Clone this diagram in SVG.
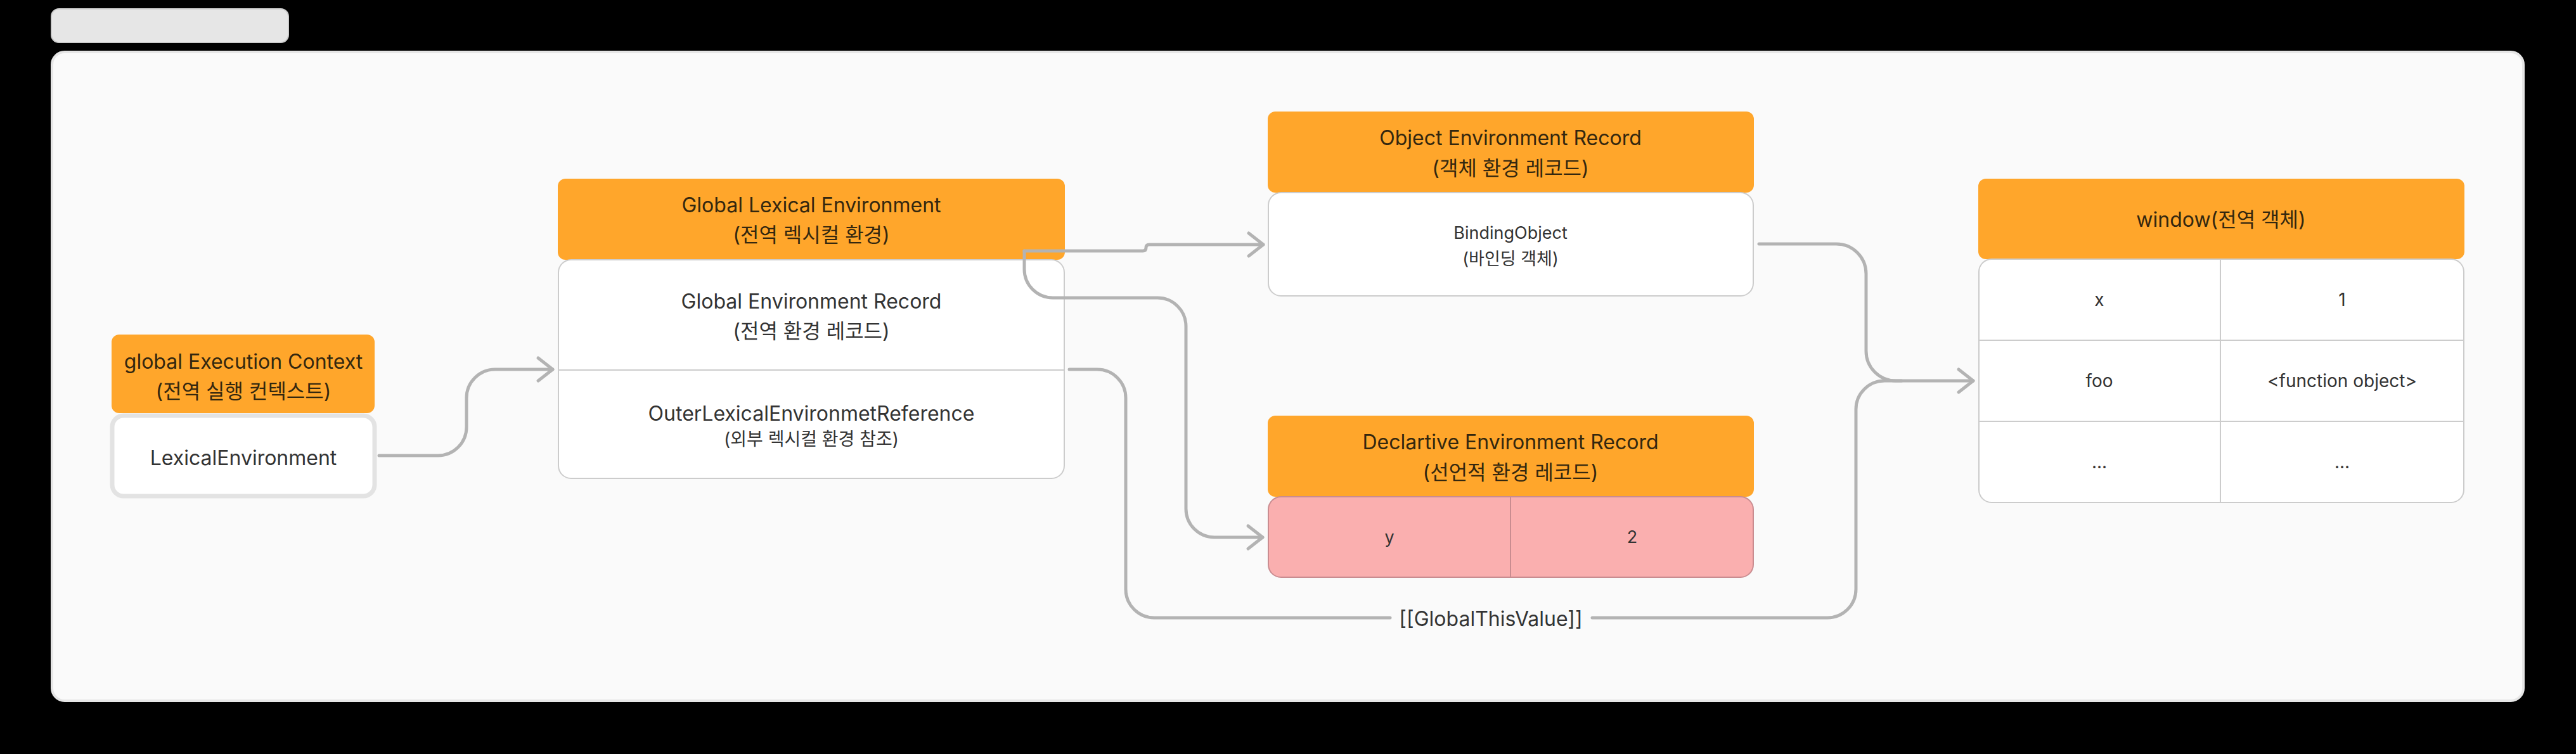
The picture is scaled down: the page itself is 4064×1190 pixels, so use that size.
<svg xmlns="http://www.w3.org/2000/svg" width="4064" height="1190" viewBox="0 0 4064 1190">
<defs>
<style>
text{font-family:"Inter","Noto Sans CJK KR",sans-serif;text-anchor:middle;dominant-baseline:central;fill:#333333;}
.hd{fill:#ffa62b;}
.ht{font-size:32px;fill:#33270f;}
.bt{font-size:32px;}
.st{font-size:28px;}
.sm{font-size:27px;}
.body{fill:#ffffff;stroke:#cccccc;stroke-width:2;}
.div{stroke:#cccccc;stroke-width:2;fill:none;}
.conn{fill:none;stroke:#b3b3b3;stroke-width:5;stroke-linecap:round;stroke-linejoin:round;}
</style>
<marker id="arr" markerUnits="userSpaceOnUse" markerWidth="40" markerHeight="50" viewBox="-30 -25 40 50" refX="0" refY="0" orient="auto" overflow="visible">
<path d="M-23,-18 L0,0 L-23,18" fill="none" stroke="#b3b3b3" stroke-width="5" stroke-linecap="round" stroke-linejoin="round"/>
</marker>
</defs>
<rect x="0" y="0" width="4064" height="1190" fill="#000000"/>
<rect x="81" y="14" width="374" height="53" rx="12" fill="#e6e6e6" stroke="#cccccc" stroke-width="2"/>
<rect x="82" y="82" width="3899" height="1024" rx="20" fill="#fafafa" stroke="#e6e6e6" stroke-width="4"/>

<g id="global-execution-context">
<rect class="hd" x="176" y="528" width="415" height="124" rx="12"/>
<text class="ht" x="384" y="570">global Execution Context</text>
<text class="ht" x="384" y="617">(전역 실행 컨텍스트)</text>
<rect x="177" y="656" width="414" height="127" rx="18" fill="#ffffff" stroke="#e3e3e3" stroke-width="7"/>
<text class="bt" x="384" y="722">LexicalEnvironment</text>
</g>

<g id="global-lexical-environment">
<rect class="hd" x="880" y="282" width="800" height="128" rx="12"/>
<text class="ht" x="1280" y="323">Global Lexical Environment</text>
<text class="ht" x="1280" y="370">(전역 렉시컬 환경)</text>
<rect class="body" x="881" y="410" width="798" height="345" rx="20"/>
<line class="div" x1="881" y1="584" x2="1679" y2="584"/>
<text class="bt" x="1280" y="475">Global Environment Record</text>
<text class="bt" x="1280" y="522">(전역 환경 레코드)</text>
<text class="bt" x="1280" y="652">OuterLexicalEnvironmetReference</text>
<text class="st" x="1280" y="693">(외부 렉시컬 환경 참조)</text>
</g>

<g id="object-environment-record">
<rect class="hd" x="2000" y="176" width="767" height="128" rx="12"/>
<text class="ht" x="2383" y="217">Object Environment Record</text>
<text class="ht" x="2383" y="265">(객체 환경 레코드)</text>
<rect class="body" x="2001" y="304" width="765" height="163" rx="20"/>
<text class="sm" x="2383" y="367">BindingObject</text>
<text class="sm" x="2383" y="408">(바인딩 객체)</text>
</g>

<g id="declarative-environment-record">
<rect class="hd" x="2000" y="656" width="767" height="128" rx="12"/>
<text class="ht" x="2383" y="697">Declartive Environment Record</text>
<text class="ht" x="2383" y="745">(선언적 환경 레코드)</text>
<rect x="2001" y="784" width="765" height="127" rx="20" fill="#faafaf" stroke="#c98c90" stroke-width="2"/>
<line x1="2383" y1="785" x2="2383" y2="910" stroke="#c98c90" stroke-width="2"/>
<text class="sm" x="2192" y="847">y</text>
<text class="sm" x="2575" y="847">2</text>
</g>

<g id="window-global-object">
<rect class="hd" x="3121" y="282" width="767" height="127" rx="12"/>
<text class="ht" x="3504" y="346">window(전역 객체)</text>
<rect class="body" x="3122" y="409" width="765" height="384" rx="20"/>
<line class="div" x1="3122" y1="537" x2="3887" y2="537"/>
<line class="div" x1="3122" y1="665" x2="3887" y2="665"/>
<line class="div" x1="3503" y1="409" x2="3503" y2="793"/>
<text class="st" x="3312" y="473">x</text>
<text class="st" x="3695" y="473">1</text>
<text class="st" x="3312" y="601">foo</text>
<text class="st" x="3695" y="601">&lt;function object&gt;</text>
<text class="st" x="3312" y="729">...</text>
<text class="st" x="3695" y="729">...</text>
</g>

<g id="connectors">
<path class="conn" d="M598,719 H691 A45,45 0 0 0 736,674 V628 A45,45 0 0 1 781,583 H872" marker-end="url(#arr)"/>
<path class="conn" d="M1616,396 H1803 Q1808,396 1808,391 Q1808,386 1813,386 H1993" marker-end="url(#arr)"/>
<path class="conn" d="M1616,396 V425 A45,45 0 0 0 1661,470 H1826 A45,45 0 0 1 1871,515 V803 A45,45 0 0 0 1916,848 H1992" marker-end="url(#arr)"/>
<path class="conn" d="M1687,583 H1731 A45,45 0 0 1 1776,628 V930 A45,45 0 0 0 1821,975 H2193"/>
<path class="conn" d="M2512,975 H2883 A45,45 0 0 0 2928,930 V646 A45,45 0 0 1 2973,601 H3000"/>
<path class="conn" d="M2775,385 H2897 A47,47 0 0 1 2944,432 V554 A47,47 0 0 0 2991,601 H3113" marker-end="url(#arr)"/>
<text class="bt" x="2352" y="976">[[GlobalThisValue]]</text>
</g>
</svg>
